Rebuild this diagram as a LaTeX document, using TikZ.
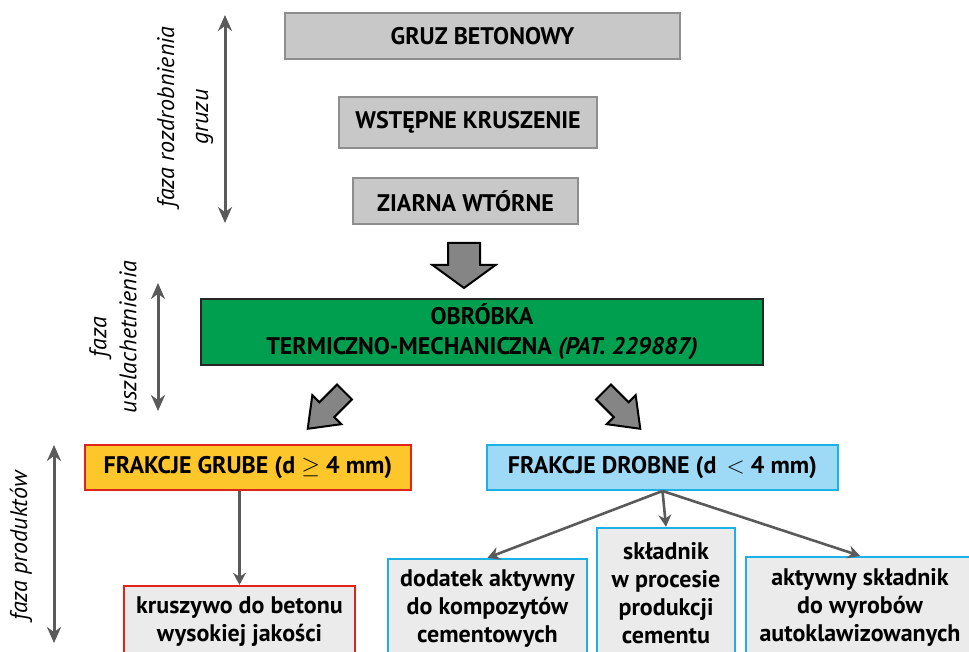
\documentclass[tikz,border=0pt]{standalone}
\usepackage{fontspec}
\setmainfont{PT Sans}
\usepackage{tikz}
\usetikzlibrary{arrows.meta, positioning, calc}
\definecolor{boxgray}{HTML}{C8C8C8}
\definecolor{boxgrayline}{HTML}{8E8E8E}
\definecolor{obrgreen}{HTML}{009F4F}
\definecolor{grubeyellow}{HTML}{FDC72C}
\definecolor{grubered}{HTML}{E2231A}
\definecolor{drobneblue}{HTML}{9ED9F6}
\definecolor{drobnecyan}{HTML}{1BB1E7}
\definecolor{prodgray}{HTML}{EBEBEB}
\definecolor{linegray}{HTML}{5A5A5A}
\definecolor{arrowfill}{HTML}{858585}

\tikzset{
    pics/blockarrow/.style args={#1/#2/#3/#4}{code={
        \draw[bigarrow] (0,-#3) -- ({#1-#2},-#3) -- ({#1-#2},-#4) -- (#1,0)
            -- ({#1-#2},#4) -- ({#1-#2},#3) -- (0,#3) -- cycle;
    }}
}

\begin{document}
\begin{tikzpicture}[
    x=0.5pt, y=-0.5pt,
    box/.style={draw, line width=1pt, inner sep=0pt, align=center, font=\fontsize{12}{14}\selectfont\bfseries},
    graybox/.style={box, draw=boxgrayline, fill=boxgray},
    greenbox/.style={box, draw=black!85, fill=obrgreen, font=\fontsize{12}{15}\selectfont\bfseries},
    grubebox/.style={box, draw=grubered, fill=grubeyellow},
    drobnebox/.style={box, draw=drobnecyan, fill=drobneblue},
    prodbox/.style={box, line width=1.2pt, fill=prodgray},
    conn/.style={draw=linegray, line width=1.3pt, -{Stealth[length=6pt,width=6.5pt]}},
    phase/.style={draw=linegray, line width=1.5pt, {Stealth[length=8pt,width=7pt]}-{Stealth[length=8pt,width=7pt]}},
    phaselabel/.style={rotate=90, align=center, font=\fontsize{12}{15}\selectfont\itshape},
    bigarrow/.style={draw=black, line width=1pt, line join=miter, fill=arrowfill}
]
\clip (0,0) rectangle (969,652);

% Faza rozdrobnienia
\node[graybox, minimum width=197.5pt, minimum height=23pt] (gruz) at (482.5,36) {GRUZ BETONOWY};
\node[graybox, minimum width=129pt, minimum height=25.5pt] (wstepne) at (468,122.5) {WSTĘPNE KRUSZENIE};
\node[graybox, minimum width=112.5pt, minimum height=23pt] (ziarna) at (465.5,201) {ZIARNA WTÓRNE};

\coordinate (rozTop) at (225,15);
\coordinate (rozBot) at (225,223);
\draw[phase] (rozTop) -- (rozBot);
\node[phaselabel, font=\fontsize{12}{17}\selectfont\itshape] (rozLabel) at (185,117) {faza rozdrobnienia\\gruzu};

\pic[rotate=-90] (arrDown) at (464,243) {blockarrow={45/23/16/31.5}};

% Faza uszlachetnienia
\node[greenbox, minimum width=281pt, minimum height=33pt] (obrobka) at (482,332)
    {OBRÓBKA\\TERMICZNO-MECHANICZNA \textit{(PAT. 229887)}};

\coordinate (uszTop) at (158,283);
\coordinate (uszBot) at (158,411);
\draw[phase] (uszTop) -- (uszBot);
\node[phaselabel] (uszLabel) at (113,337) {faza\\uszlachetnienia};

\pic[rotate=-135] (arrLeft) at (344.5,392) {blockarrow={52/27/10.5/20.5}};
\pic[rotate=-45] (arrRight) at (603.5,392) {blockarrow={52/27/10.5/20.5}};

% Faza produktow
\node[grubebox, minimum width=163pt, minimum height=22.5pt] (grube) at (248,467.5)
    {FRAKCJE GRUBE (d $\geq$ 4 mm)};
\node[drobnebox, minimum width=175.5pt, minimum height=22.5pt] (drobne) at (662.5,467.5)
    {FRAKCJE DROBNE (d \,$<$ 4 mm)};

\node[prodbox, draw=grubered, minimum width=115.5pt, minimum height=36pt] (kruszywo) at (239.5,622)
    {kruszywo do betonu\\wysokiej jakości};
\node[prodbox, draw=drobnecyan, minimum width=99.5pt, minimum height=49.5pt] (dodatek) at (487.5,608.5)
    {dodatek aktywny\\do kompozytów\\cementowych};
\node[prodbox, draw=drobnecyan, minimum width=69pt, minimum height=65pt] (skladnik) at (666,593)
    {składnik\\w procesie\\produkcji\\cementu};
\node[prodbox, draw=drobnecyan, minimum width=114pt, minimum height=50.5pt] (aktywny) at (860,607.5)
    {aktywny składnik\\do wyrobów\\autoklawizowanych};

\draw[conn] (grube.south -| kruszywo.north) -- (kruszywo.north);
\draw[conn] (drobne.south) -- (dodatek.north);
\draw[conn] (drobne.south) -- (skladnik.north);
\draw[conn] (drobne.south) -- (aktywny.north);

\coordinate (prodTop) at (54,445);
\coordinate (prodBot) at (54,643);
\draw[phase] (prodTop) -- (prodBot);
\node[phaselabel] (prodLabel) at (21,546) {faza produktów};
\end{tikzpicture}
\end{document}
